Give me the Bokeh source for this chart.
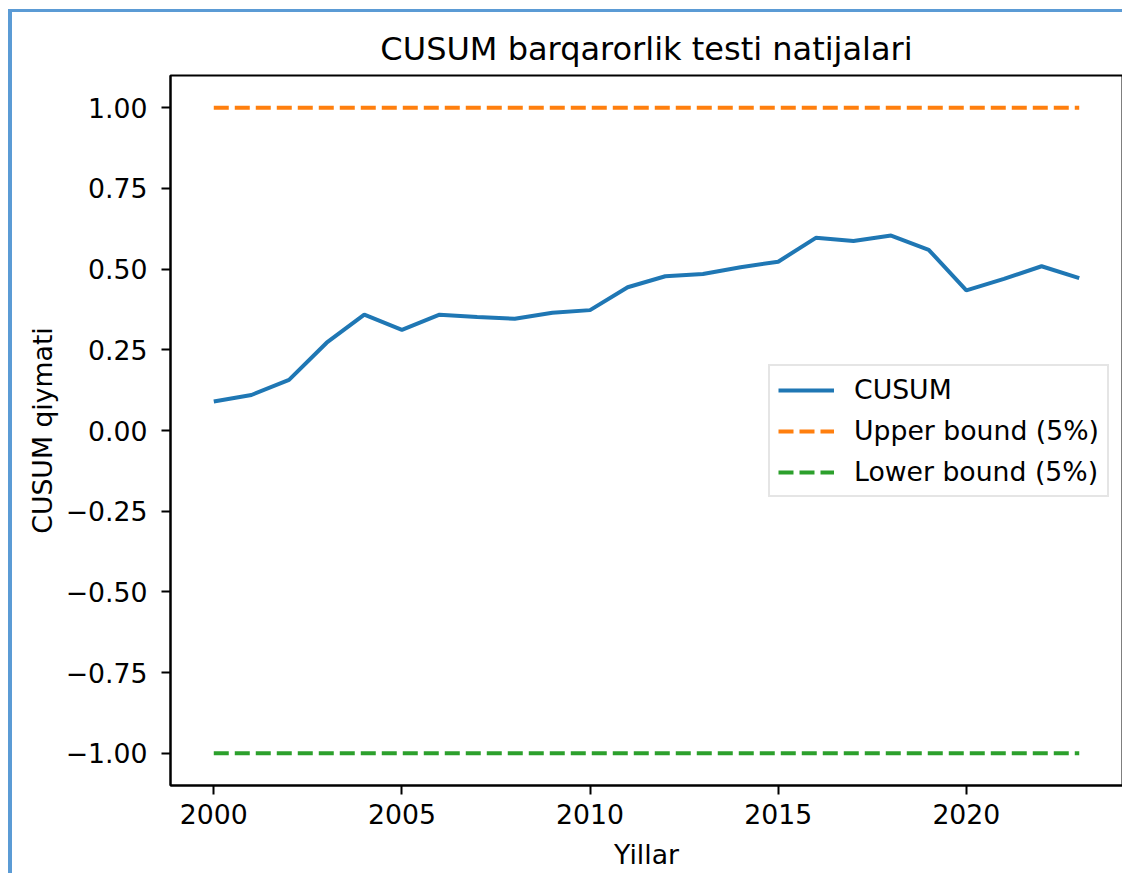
from bokeh.plotting import figure
from bokeh.models import Range1d, FixedTicker, Legend, LegendItem
from bokeh.embed import file_html
from bokeh.resources import INLINE

# ---- data ----
years = list(range(2000, 2024))
cusum = [0.09, 0.11, 0.157, 0.272, 0.359, 0.312, 0.359, 0.352, 0.346, 0.365,
         0.373, 0.444, 0.478, 0.485, 0.506, 0.523, 0.597, 0.587, 0.604, 0.560,
         0.434, 0.470, 0.509, 0.472]
upper = [1.0] * len(years)
lower = [-1.0] * len(years)
x_ticks = [2000, 2005, 2010, 2015, 2020]
y_ticks = [-1.0, -0.75, -0.5, -0.25, 0.0, 0.25, 0.5, 0.75, 1.0]
y_tick_labels = ["\u22121.00", "\u22120.75", "\u22120.50", "\u22120.25", "0.00",
                 "0.25", "0.50", "0.75", "1.00"]
series_names = ["CUSUM", "Upper bound (5%)", "Lower bound (5%)"]
title_text = "CUSUM barqarorlik testi natijalari"
x_label = "Yillar"
y_label = "CUSUM qiymati"

FONT = "DejaVu Sans"
TICK_FS = "26.7px"

p = figure(width=1114, height=864, output_backend="svg", toolbar_location=None,
           x_range=Range1d(2000 - 1.15, 2023 + 1.15), y_range=Range1d(-1.1, 1.1),
           min_border_left=158, min_border_right=4, min_border_top=63,
           min_border_bottom=91)
p.styles = {"border-top": "3px solid #5b9bd5", "border-left": "4px solid #5b9bd5",
            "margin-top": "9px", "margin-left": "8px"}

p.title.text = title_text
p.title.align = "center"
p.title.text_font = FONT
p.title.text_font_size = "32px"
p.title.text_font_style = "normal"
p.title.text_color = "#000000"
p.title.standoff = 16

p.xgrid.visible = False
p.ygrid.visible = False
p.outline_line_color = "#000000"
p.outline_line_width = 2

for ax in (p.xaxis[0], p.yaxis[0]):
    ax.axis_line_width = 2
    ax.axis_line_color = "#000000"
    ax.major_tick_line_width = 2
    ax.major_tick_line_color = "#000000"
    ax.major_tick_out = 9
    ax.major_tick_in = 0
    ax.minor_tick_line_color = None
    ax.major_label_text_font = FONT
    ax.major_label_text_font_size = TICK_FS
    ax.major_label_text_color = "#000000"
    ax.axis_label_text_font = FONT
    ax.axis_label_text_font_size = TICK_FS
    ax.axis_label_text_font_style = "normal"
    ax.axis_label_text_color = "#000000"

p.xaxis[0].ticker = FixedTicker(ticks=x_ticks)
p.xaxis[0].major_label_standoff = 9
p.xaxis[0].axis_label = x_label
p.xaxis[0].axis_label_standoff = 12
p.yaxis[0].ticker = FixedTicker(ticks=y_ticks)
p.yaxis[0].major_label_overrides = {t: l for t, l in zip(y_ticks, y_tick_labels)}
p.yaxis[0].major_label_standoff = 14
p.yaxis[0].axis_label = y_label
p.yaxis[0].axis_label_standoff = 5

r1 = p.line(years, cusum, line_color="#1f77b4", line_width=4)
r2 = p.line(years, upper, line_color="#ff7f0e", line_width=4, line_dash="15 6")
r3 = p.line(years, lower, line_color="#2ca02c", line_width=4, line_dash="15 6")

legend = Legend(items=[LegendItem(label=series_names[0], renderers=[r1]),
                       LegendItem(label=series_names[1], renderers=[r2]),
                       LegendItem(label=series_names[2], renderers=[r3])],
                location=(598, 288))
legend.label_text_font = FONT
legend.label_text_font_size = TICK_FS
legend.label_text_color = "#000000"
legend.glyph_width = 56
legend.glyph_height = 30
legend.label_height = 30
legend.label_standoff = 20
legend.spacing = 10
legend.padding = 8
legend.margin = 0
legend.border_line_color = "#cccccc"
legend.border_line_width = 2
legend.background_fill_alpha = 0.8
p.add_layout(legend, "center")

open("out.html", "w").write(file_html(p, INLINE))
